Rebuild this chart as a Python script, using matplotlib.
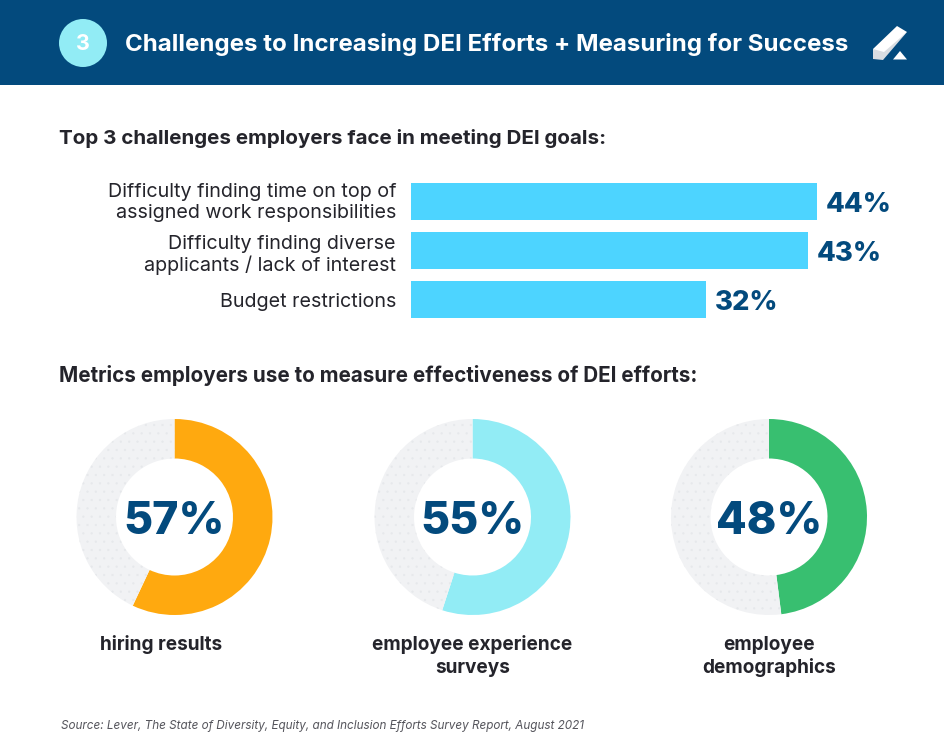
import matplotlib
matplotlib.use('Agg')
import matplotlib.pyplot as plt
from matplotlib.patches import Rectangle, Circle, Polygon

plt.rcParams['font.family'] = ['Inter', 'DejaVu Sans']
plt.rcParams['hatch.linewidth'] = 0.4

# Data
challenges = ['Difficulty finding time on top of\nassigned work responsibilities',
              'Difficulty finding diverse\napplicants / lack of interest',
              'Budget restrictions']
challenge_pct = [44, 43, 32]
metric_names = ['hiring results', 'employee experience\nsurveys', 'employee\ndemographics']
metric_pct = [57, 55, 48]
metric_colors = ['#FFA90F', '#92ECF5', '#38BF70']

title = 'Challenges to Increasing DEI Efforts + Measuring for Success'
subtitle_top = 'Top 3 challenges employers face in meeting DEI goals:'
subtitle_metrics = 'Metrics employers use to measure effectiveness of DEI efforts:'
source = 'Source: Lever, The State of Diversity, Equity, and Inclusion Efforts Survey Report, August 2021'

NAVY = '#034A7D'
DARK = '#24242B'
W, H = 944, 742


def px_axes(fig, left, top, right, bottom):
    return fig.add_axes([left / W, 1 - bottom / H, (right - left) / W, (bottom - top) / H])


fig = plt.figure(figsize=(W / 100, H / 100), dpi=100, facecolor='white')

# page layer in pixel coords: header, headings, source
bg = fig.add_axes([0, 0, 1, 1])
bg.set_xlim(0, W)
bg.set_ylim(H, 0)
bg.axis('off')
bg.add_patch(Rectangle((0, 0), W, 85, color=NAVY, lw=0))
bg.add_patch(Circle((83, 43), 24, color='#92ECF5', lw=0))
bg.text(83, 44, '3', color='white', fontsize=15.5, fontweight='bold', ha='center', va='center')
bg.text(125, 45, title, color='white', fontsize=17.35, fontweight='bold', ha='left', va='center')
# logo
bg.add_patch(Polygon([(873, 49), (883, 49), (907, 32), (883, 60), (873, 59)], color='#D9DDE2', lw=0))
bg.add_patch(Polygon([(873, 49), (897, 26), (907, 32), (884, 52)], color='white', lw=0))
bg.add_patch(Polygon([(893, 59.5), (900, 51), (907, 59.5)], color='white', lw=0))

bg.text(59, 139, subtitle_top, color=DARK, fontsize=14.8, fontweight='bold', ha='left', va='center')
bg.text(59, 375, subtitle_metrics, color=DARK, fontsize=14.85, fontweight='bold', ha='left', va='center')
bg.text(61, 726, source, color='#55555C', fontsize=8.45, style='italic', ha='left', va='center')

# bars
ax = px_axes(fig, 411, 177, 872.5, 324.5)
ax.set_xlim(0, 50)
ax.set_ylim(2.5, -0.5)
ax.axis('off')
positions = range(len(challenges))
ax.barh(positions, challenge_pct, height=37 / 49, color='#4DD4FF', lw=0)
label_shift = [-1, -4, -2]  # the labels don't sit exactly on the bar centres
for y, label, pct, dy in zip(positions, challenges, challenge_pct, label_shift):
    ax.annotate(label, (0, y), xytext=(-15, dy), textcoords='offset pixels', ha='right', va='center',
                color=DARK, fontsize=14.2, linespacing=1.16)
    ax.annotate(f'{pct}%', (pct, y), xytext=(9, -3), textcoords='offset pixels', ha='left', va='center',
                color=NAVY, fontsize=19.7, fontweight='heavy', annotation_clip=False)

# donuts
centers = [174.5, 472.5, 769]
label_x = [161.5, 472.5, 769]
for cx, lx, name, pct, col in zip(centers, label_x, metric_names, metric_pct, metric_colors):
    dax = px_axes(fig, cx - 98, 419, cx + 98, 615)
    wedges, _ = dax.pie([pct, 100 - pct], colors=[col, '#F1F2F4'], startangle=90, counterclock=False,
                        radius=1, wedgeprops={'width': 39.5 / 98, 'linewidth': 0})
    wedges[1].set_hatch('..')
    wedges[1].set_edgecolor('#E6E8EB')
    wedges[1].set_linewidth(0)
    dax.set_xlim(-1, 1)
    dax.set_ylim(-1, 1)
    dax.text(0, -0.05, f'{pct}%', color=NAVY, fontsize=32.2, fontweight='heavy', ha='center', va='center')
    # lines placed one by one so descenders don't move them
    for i, line in enumerate(name.split('\n')):
        bg.text(lx, 650 + 23 * i, line, color=DARK, fontsize=13.7, fontweight='bold', ha='center', va='baseline')

fig.savefig('out.png', dpi=100)
